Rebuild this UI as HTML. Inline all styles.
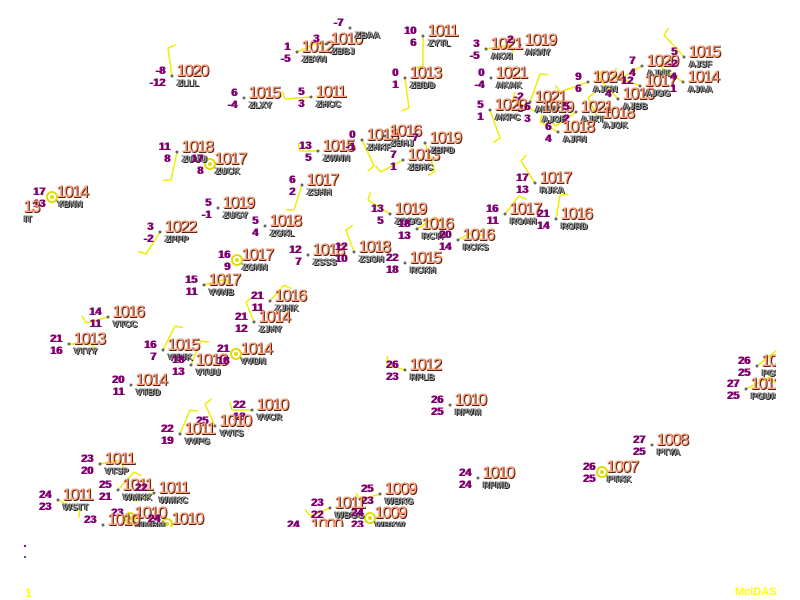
<!DOCTYPE html>
<html><head><meta charset="utf-8">
<style>
body{margin:0;background:#fff;width:800px;height:600px;overflow:hidden;position:relative;font-family:"Liberation Sans",sans-serif}
#map{position:absolute;left:0;top:0;width:776px;height:527px;overflow:hidden}
svg{position:absolute;left:0;top:0}
.p{position:absolute;font-size:17px;line-height:16px;color:#ffa07a;letter-spacing:-1.6px;text-shadow:1px 1px 0 #5a2010,1px 0 0 #c07050;white-space:nowrap}
.i{position:absolute;font-size:9px;line-height:9px;font-weight:bold;color:#999;text-shadow:1px 1px 0 #222,-1px 0 0 #444;white-space:nowrap}
.t{position:absolute;font-size:11px;line-height:11px;font-weight:bold;color:#800070;text-shadow:1px 0 0 #800070;text-align:right;width:24px;white-space:nowrap}
.y{position:absolute;color:#ffff00;font-weight:bold;font-size:12px}
</style></head><body>
<div id="map"><svg id="s" width="776" height="527"></svg></div>
<div class="y" style="left:25px;top:586px">1</div>
<div class="y" style="left:735px;top:586px;font-size:11px">McIDAS</div>
<div style="position:absolute;left:24px;top:545px;width:2px;height:2px;background:#80107a"></div>
<div style="position:absolute;left:24px;top:556px;width:2px;height:2px;background:#555"></div>
<script>
var S=[
[172,76,"1020","ZLLL","-8","-12",-4,-28],
[244,98,"1015","ZLXY","6","-4",0,0],
[311,97,"1011","ZHCC","5","3",-26,2],
[297,52,"1012","ZBYN","1","-5",22,-10],
[326,44,"1010","ZBBJ","3","",0,0],
[350,28,"","ZBAA","-7","",0,0],
[423,36,"1011","ZYTL","10","6",0,30],
[405,78,"1013","ZBDD","0","1",4,30],
[486,49,"1021","AKXI","3","-5",24,-4],
[520,45,"1019","AKNY","2","",0,0],
[491,78,"1021","AKAK","0","-4",0,0],
[530,102,"1021","AKPK","-2","3",10,-28],
[490,110,"1020","AKPC","5","1",10,28],
[537,112,"1019","AJOB","6","3",-24,-12],
[576,112,"1021","AJKT","5","2",-20,14],
[588,82,"1024","AJCN","9","6",-28,10],
[598,118,"1018","AJOK","","",-10,-20],
[618,99,"1019","AJBB","4","",-20,-22],
[642,66,"1020","AJNT","7","4",-24,14],
[640,86,"1017","AJGG","12","",-25,-10],
[684,57,"1015","AJSF","5","-2",-20,-22],
[683,82,"1014","AJAA","4","1",-22,-15],
[558,132,"1018","AJFN","6","4",-18,-10],
[177,152,"1018","ZUUU","11","8",-6,28],
[210,164,"1017","ZUCK","17","8",0,0,1],
[318,151,"1015","ZWNN","13","5",-18,0],
[362,140,"1018","ZHKF","0","-1",12,26],
[385,136,"1016","ZBHJ","","",0,0],
[403,160,"1013","ZBHC","7","1",-22,12],
[425,143,"1019","ZBPD","7","",10,28],
[302,185,"1017","ZSHH","6","2",-8,25],
[52,197,"1014","YBNN","17","13",0,0,1],
[218,208,"1019","ZUGY","5","-1",0,0],
[160,232,"1022","ZPPP","3","-2",-14,22],
[265,226,"1018","ZGKL","5","4",0,0],
[308,255,"1018","ZSSS","12","7",0,0],
[354,252,"1018","ZSOH","12","10",-8,-22],
[390,214,"1019","ZGGG","13","5",-22,-14],
[417,229,"1016","RCTP","18","13",18,-12],
[458,240,"1016","RCKS","20","14",18,-10],
[405,263,"1015","RCKH","22","18",0,0],
[505,214,"1017","ROAH","16","11",14,-18],
[556,219,"1016","RORD","21","14",4,-24],
[535,183,"1017","RJKA","17","13",-14,-22],
[237,260,"1017","ZGNN","16","9",0,0,1],
[204,285,"1017","VVNB","15","11",22,-6],
[270,301,"1016","ZJHK","21","11",14,-16],
[254,322,"1014","ZJHY","21","12",-8,-20],
[108,317,"1016","VTCC","14","11",-22,6],
[69,344,"1013","VTYY","21","16",24,0],
[163,350,"1015","VTUK","16","7",12,-24],
[191,365,"1013","VTUU","18","13",10,-24],
[236,354,"1014","VVDN","21","18",0,0,1],
[131,385,"1014","VTBD","20","11",0,0],
[405,370,"1012","RPLB","26","23",-18,-6],
[450,405,"1010","RPVM","26","25",0,0],
[252,410,"1010","VVCR","22","18",-20,0],
[215,426,"1010","VVTS","25","",-10,-22],
[180,434,"1011","VVPG","22","19",10,-24],
[100,464,"1011","VTSP","23","20",20,-4],
[118,490,"1011","WMKK","25","21",16,-18],
[154,493,"1011","WMKC","22","",-20,8],
[58,500,"1011","WSTT","24","23",22,10],
[130,518,"1010","WMBM","23","",0,0,1],
[167,524,"1010","","24","",0,0,1],
[103,525,"1010","","23","",0,0],
[380,494,"1009","WBKG","25","23",-20,6],
[330,508,"1011","WBGG","23","22",-20,8],
[370,518,"1009","WBKW","24","23",0,0,1],
[306,530,"1000","","24","",0,0],
[478,478,"1010","RPMD","24","24",0,0],
[602,472,"1007","PTKK","26","25",0,0,1],
[652,445,"1008","PTYA","27","25",0,0],
[757,366,"1010","PGSN","26","25",20,-16],
[746,389,"1011","PGUA","27","25",24,-12],
[19,212,"13","IT","","",0,0,2]
];
var svg=document.getElementById('s'),m=document.getElementById('map'),g='';
S.forEach(function(a){var x=a[0],y=a[1];
 if(a[6]||a[7]){var ex=x+a[6],ey=y+a[7];g+='<line x1="'+x+'" y1="'+y+'" x2="'+ex+'" y2="'+ey+'" stroke="#ee0" stroke-width="1.5"/>';
  var L=Math.hypot(a[6],a[7]),ux=a[6]/L,uy=a[7]/L;g+='<line x1="'+ex+'" y1="'+ey+'" x2="'+(ex-uy*8+ux*2)+'" y2="'+(ey+ux*8+uy*2)+'" stroke="#ee0" stroke-width="1.5"/>';}
 if(a[8]==1)g+='<circle cx="'+x+'" cy="'+y+'" r="5" fill="none" stroke="#dd0" stroke-width="2"/><circle cx="'+x+'" cy="'+y+'" r="2" fill="#dd0"/>';
 else if(!a[8])g+='<circle cx="'+x+'" cy="'+y+'" r="1.5" fill="#666"/>';
 var h='';
 if(a[2])h+='<div class="p" style="left:'+(x+4)+'px;top:'+(y-13)+'px">'+a[2]+'</div>';
 if(a[3])h+='<div class="i" style="left:'+(x+5)+'px;top:'+(y+3)+'px">'+a[3]+'</div>';
 if(a[4])h+='<div class="t" style="left:'+(x-31)+'px;top:'+(y-10)+'px">'+a[4]+'</div>';
 if(a[5])h+='<div class="t" style="left:'+(x-31)+'px;top:'+(y+2)+'px">'+a[5]+'</div>';
 m.insertAdjacentHTML('beforeend',h);
});
svg.innerHTML=g;
</script>
</body></html>
